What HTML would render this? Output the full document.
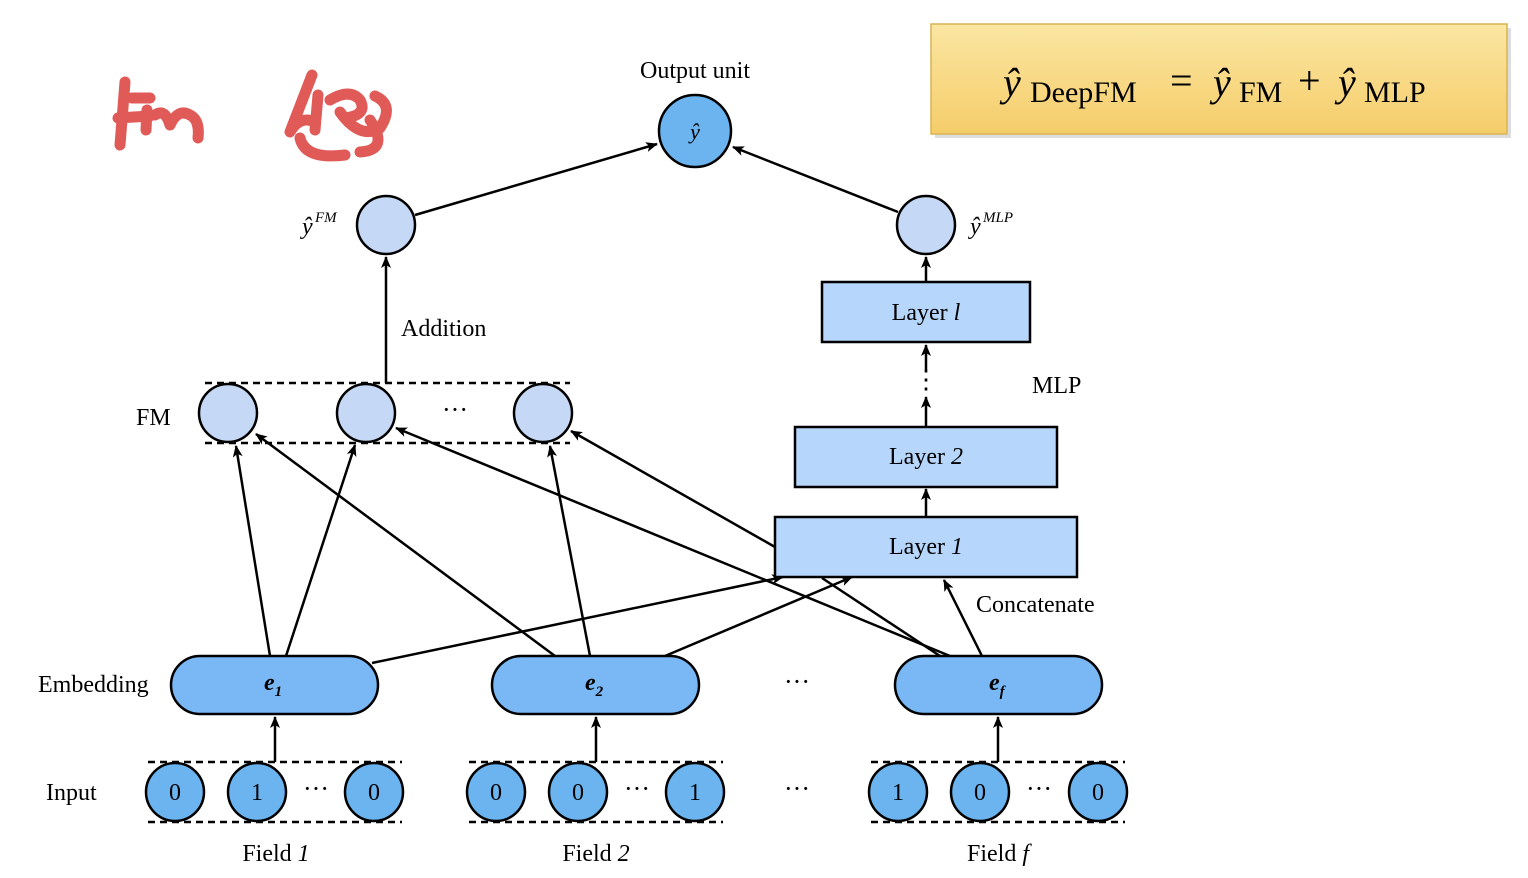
<!DOCTYPE html>
<html><head><meta charset="utf-8"><style>
body{margin:0;background:#fff;}
svg{display:block;font-family:"Liberation Serif",serif;}
</style></head><body>
<svg width="1528" height="878" viewBox="0 0 1528 878">
<defs>
<marker id="a" markerWidth="12" markerHeight="10" refX="11" refY="5" orient="auto" markerUnits="userSpaceOnUse">
<path d="M0,0 L12,5 L0,10 L3,5 z" fill="#000"/></marker>
<linearGradient id="g" x1="0" y1="0" x2="0" y2="1"><stop offset="0" stop-color="#fbe6a2"/><stop offset="1" stop-color="#f5cd6a"/></linearGradient>
</defs>
<rect x="935" y="28" width="576" height="110" fill="#bbb" opacity="0.5"/>
<rect x="931" y="24" width="576" height="110" fill="url(#g)" stroke="#d9b453" stroke-width="1.5"/>
<text y="96" font-size="40" font-style="italic"><tspan x="1003">ŷ</tspan></text>
<text x="1030" y="102" font-size="30">DeepFM</text>
<text x="1170" y="94" font-size="40">=</text>
<text x="1213" y="96" font-size="40" font-style="italic">ŷ</text>
<text x="1239" y="102" font-size="30">FM</text>
<text x="1298" y="94" font-size="40">+</text>
<text x="1338" y="96" font-size="40" font-style="italic">ŷ</text>
<text x="1364" y="102" font-size="30">MLP</text>
<g fill="none" stroke="#e05a58" stroke-width="11" stroke-linecap="round" stroke-linejoin="round">
<path d="M125,82 L120,145 M118,118 L150,116 M132,98 L150,98 M147,110 L146,130 M155,115 Q165,108 170,125 Q178,108 190,115 Q200,120 198,138"/>
<path d="M312,75 L290,132 Q300,115 315,122 M300,138 Q305,160 345,155 M318,95 L315,130 M330,100 Q350,88 360,100 Q368,115 345,118 M340,112 Q360,140 380,128 Q395,105 375,96 M370,120 Q390,150 360,152"/>
</g>
<g stroke="#000" stroke-width="2.5" fill="none">
<line x1="415" y1="215" x2="657" y2="144" marker-end="url(#a)"/>
<line x1="898" y1="212" x2="733" y2="147" marker-end="url(#a)"/>
<line x1="386" y1="383" x2="386" y2="257" marker-end="url(#a)"/>
<line x1="926" y1="282" x2="926" y2="257" marker-end="url(#a)"/>
<line x1="926" y1="370" x2="926" y2="345" marker-end="url(#a)"/>
<line x1="926" y1="427" x2="926" y2="397" marker-end="url(#a)"/>
<line x1="926" y1="517" x2="926" y2="489" marker-end="url(#a)"/>
<line x1="270" y1="656" x2="236" y2="446" marker-end="url(#a)"/>
<line x1="286" y1="656" x2="355" y2="445" marker-end="url(#a)"/>
<line x1="372" y1="663" x2="783" y2="577" marker-end="url(#a)"/>
<line x1="555" y1="656" x2="256" y2="434" marker-end="url(#a)"/>
<line x1="590" y1="656" x2="550" y2="446" marker-end="url(#a)"/>
<line x1="665" y1="656" x2="852" y2="577" marker-end="url(#a)"/>
<line x1="950" y1="656" x2="396" y2="428" marker-end="url(#a)"/>
<line x1="940" y1="656" x2="822" y2="578"/>
<line x1="982" y1="656" x2="944" y2="580" marker-end="url(#a)"/>
<line x1="775" y1="547" x2="571" y2="431" marker-end="url(#a)"/>
<line x1="275" y1="762" x2="275" y2="717" marker-end="url(#a)"/>
<line x1="596" y1="762" x2="596" y2="717" marker-end="url(#a)"/>
<line x1="998" y1="762" x2="998" y2="717" marker-end="url(#a)"/>
</g>
<g stroke="#000" stroke-width="2.5" stroke-dasharray="7,5" fill="none">
<path d="M205,383 H570 M205,443 H570"/>
<path d="M148,762 H402 M148,822 H402"/>
<path d="M469,762 H723 M469,822 H723"/>
<path d="M871,762 H1125 M871,822 H1125"/>
</g>
<g stroke="#000" stroke-width="2.5">
<circle cx="695" cy="131" r="36" fill="#6cb4f0"/>
<circle cx="386" cy="225" r="29" fill="#c5d8f5"/>
<circle cx="926" cy="225" r="29" fill="#c5d8f5"/>
<circle cx="228" cy="413" r="29" fill="#c5d8f5"/>
<circle cx="366" cy="413" r="29" fill="#c5d8f5"/>
<circle cx="543" cy="413" r="29" fill="#c5d8f5"/>
<rect x="822" y="282" width="208" height="60" fill="#b6d6fb"/>
<rect x="795" y="427" width="262" height="60" fill="#b6d6fb"/>
<rect x="775" y="517" width="302" height="60" fill="#b6d6fb"/>
<rect x="171" y="656" width="207" height="58" rx="29" fill="#7ab8f5"/>
<rect x="492" y="656" width="207" height="58" rx="29" fill="#7ab8f5"/>
<rect x="895" y="656" width="207" height="58" rx="29" fill="#7ab8f5"/>
<g fill="#6cb4f0">
<circle cx="175" cy="792" r="29"/><circle cx="257" cy="792" r="29"/><circle cx="374" cy="792" r="29"/>
<circle cx="496" cy="792" r="29"/><circle cx="578" cy="792" r="29"/><circle cx="695" cy="792" r="29"/>
<circle cx="898" cy="792" r="29"/><circle cx="980" cy="792" r="29"/><circle cx="1098" cy="792" r="29"/>
</g>
</g>
<g font-size="24" fill="#000">
<text x="695" y="78" text-anchor="middle">Output  unit</text>
<text x="695" y="139" text-anchor="middle" font-style="italic" font-size="22">ŷ</text>
<text x="302" y="234" font-style="italic">ŷ</text><text x="315" y="222" font-style="italic" font-size="15">FM</text>
<text x="970" y="234" font-style="italic">ŷ</text><text x="983" y="222" font-style="italic" font-size="15">MLP</text>
<text x="401" y="336">Addition</text>
<text x="136" y="425">FM</text>
<text x="455" y="418" text-anchor="middle" font-size="26">···</text>
<text x="926" y="320" text-anchor="middle">Layer <tspan font-style="italic">l</tspan></text>
<text x="926" y="388" text-anchor="middle" font-size="26">⋮</text>
<text x="1032" y="393">MLP</text>
<text x="926" y="464" text-anchor="middle">Layer <tspan font-style="italic">2</tspan></text>
<text x="926" y="554" text-anchor="middle">Layer <tspan font-style="italic">1</tspan></text>
<text x="976" y="612">Concatenate</text>
<text x="38" y="692">Embedding</text>
<text x="46" y="800">Input</text>
<g font-weight="bold" font-style="italic">
<text x="264" y="690">e<tspan font-size="15" dy="6">1</tspan></text>
<text x="585" y="690">e<tspan font-size="15" dy="6">2</tspan></text>
<text x="989" y="690">e<tspan font-size="15" dy="6">f</tspan></text>
</g>
<text x="797" y="690" text-anchor="middle" font-size="26">···</text>
<text x="797" y="797" text-anchor="middle" font-size="26">···</text>
<g text-anchor="middle">
<text x="175" y="800">0</text><text x="257" y="800">1</text><text x="374" y="800">0</text>
<text x="496" y="800">0</text><text x="578" y="800">0</text><text x="695" y="800">1</text>
<text x="898" y="800">1</text><text x="980" y="800">0</text><text x="1098" y="800">0</text>
<text x="316" y="797" font-size="26">···</text>
<text x="637" y="797" font-size="26">···</text>
<text x="1039" y="797" font-size="26">···</text>
<text x="276" y="861">Field <tspan font-style="italic">1</tspan></text>
<text x="596" y="861">Field <tspan font-style="italic">2</tspan></text>
<text x="998" y="861">Field <tspan font-style="italic">f</tspan></text>
</g>
</g>
</svg>
</body></html>
